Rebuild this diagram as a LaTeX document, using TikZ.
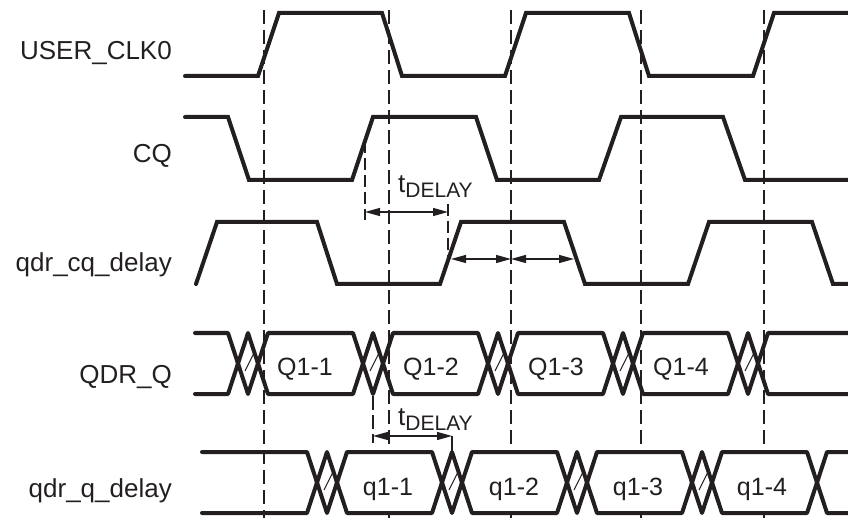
\documentclass[tikz,border=0pt]{standalone}
\usepackage{fontspec}
\setmainfont{Liberation Sans}
\usetikzlibrary{arrows.meta}
\definecolor{ink}{RGB}{35,31,32}
\begin{document}
\begin{tikzpicture}[x=1pt,y=-1pt,
  sig/.style={line width=4pt, draw=ink, line cap=round, line join=miter},
  bus/.style={line width=4pt, draw=ink, line cap=round, line join=round},
  gridline/.style={line width=1.2pt, draw=ink, dash pattern=on 14pt off 6pt},
  dim/.style={line width=1.2pt, draw=ink, {Triangle[length=15pt,width=8pt]}-{Triangle[length=15pt,width=8pt]}},
  lab/.style={inner sep=0pt, anchor=base east, text=ink, font=\fontsize{26}{26}\selectfont},
  dat/.style={inner sep=0pt, anchor=base, text=ink, font=\fontsize{25}{25}\selectfont},
  tdl/.style={inner sep=0pt, anchor=base west, text=ink, font=\fontsize{26}{26}\selectfont},
  hatch/.style={line width=1pt, draw=ink}]
\useasboundingbox (0,0) rectangle (848,518);
% vertical dashed reference lines
\foreach \x in {264,389,511,641,764}
  \draw[gridline] (\x,10) -- (\x,518);
% signal labels
\node[lab] (l1) at (172,60) {USER\_CLK0};
\node[lab] (l2) at (172,163) {CQ};
\node[lab] (l3) at (172,272) {qdr\_cq\_delay};
\node[lab] (l4) at (172,383) {QDR\_Q};
\node[lab] (l5) at (172,497) {qdr\_q\_delay};
% USER_CLK0
\draw[sig] (185,76) -- (258,76) -- (279,13) -- (382,13) -- (402,76) -- (505,76) -- (526,13) -- (629,13) -- (649,76) -- (753,76) -- (774,13) -- (848,13);
% CQ
\draw[sig] (185,117) -- (228,117) -- (249,180) -- (352,180) -- (373,117) -- (476,117) -- (497,180) -- (599,180) -- (621,117) -- (723,117) -- (745,180) -- (848,180);
% qdr_cq_delay
\draw[sig] (196,284) -- (217,222) -- (317,222) -- (337,284) -- (440,284) -- (461,222) -- (564,222) -- (585,284) -- (688,284) -- (709,222) -- (812,222) -- (833,284) -- (848,284);
% QDR_Q bus
\draw[bus] (195,333) -- (228,333) -- (248,394) -- (268,333) -- (353,333) -- (373,394) -- (393,333) -- (478,333) -- (498,394) -- (518,333) -- (603,333) -- (623,394) -- (643,333) -- (728,333) -- (748,394) -- (768,333) -- (848,333);
\draw[bus] (195,394) -- (228,394) -- (248,333) -- (268,394) -- (353,394) -- (373,333) -- (393,394) -- (478,394) -- (498,333) -- (518,394) -- (603,394) -- (623,333) -- (643,394) -- (728,394) -- (748,333) -- (768,394) -- (848,394);
\foreach \t in {228,353,478,603,728}
  \draw[hatch] (\t+17,371) -- (\t+26,353);
% qdr_q_delay bus: white-filled data eyes hide the reference lines
\foreach \t in {307,432,557,682}
  \fill[white] (\t+30,482.5) -- (\t+40,452) -- (\t+125,452) -- (\t+135,482.5) -- (\t+125,513) -- (\t+40,513) -- cycle;
\draw[bus] (202,452) -- (307,452) -- (327,513) -- (347,452) -- (432,452) -- (452,513) -- (472,452) -- (557,452) -- (577,513) -- (597,452) -- (682,452) -- (702,513) -- (722,452) -- (807,452) -- (827,513) -- (848,513);
\draw[bus] (202,513) -- (307,513) -- (327,452) -- (347,513) -- (432,513) -- (452,452) -- (472,513) -- (557,513) -- (577,452) -- (597,513) -- (682,513) -- (702,452) -- (722,513) -- (807,513) -- (827,452) -- (848,452);
\foreach \t in {307,432,557,682}
  \draw[hatch] (\t+17,490) -- (\t+26,472);
% data labels
\node[dat] (d1) at (305,375) {Q1-1};
\node[dat] (d2) at (431,375) {Q1-2};
\node[dat] (d3) at (556,375) {Q1-3};
\node[dat] (d4) at (681,375) {Q1-4};
\node[dat] (e1) at (388,495) {q1-1};
\node[dat] (e2) at (514,495) {q1-2};
\node[dat] (e3) at (638,495) {q1-3};
\node[dat] (e4) at (762,495) {q1-4};
% tDELAY (CQ -> qdr_cq_delay)
\coordinate (c1) at (365,141);
\coordinate (c2) at (365,220);
\coordinate (c3) at (448,204);
\coordinate (c4) at (448,258);
\draw[gridline, dash pattern=on 12pt off 5pt] (c1) -- (c2);
\draw[gridline, dash pattern=on 12pt off 5pt] (c3) -- (c4);
\coordinate (a1) at (365,212);
\coordinate (a2) at (448,212);
\draw[dim] (a1) -- (a2);
\node[tdl] (t1) at (398,193) {t\raisebox{-5pt}{\fontsize{21}{21}\selectfont DELAY}};
% qdr_cq_delay high-phase arrows
\coordinate (b1) at (451,259);
\coordinate (b2) at (511,259);
\coordinate (b3) at (574,259);
\draw[dim] (b1) -- (b2);
\draw[dim] (b2) -- (b3);
% tDELAY (QDR_Q -> qdr_q_delay)
\coordinate (f1) at (373,396);
\coordinate (f2) at (373,443);
\coordinate (f3) at (452,436);
\coordinate (f4) at (452,452);
\draw[gridline, dash pattern=on 14pt off 5pt] (f1) -- (f2);
\draw[line width=1.2pt, draw=ink] (f3) -- (f4);
\coordinate (g1) at (373,436);
\coordinate (g2) at (452,436);
\draw[dim] (g1) -- (g2);
\node[tdl] (t2) at (398,425) {t\raisebox{-5pt}{\fontsize{21}{21}\selectfont DELAY}};
\end{tikzpicture}
\end{document}
